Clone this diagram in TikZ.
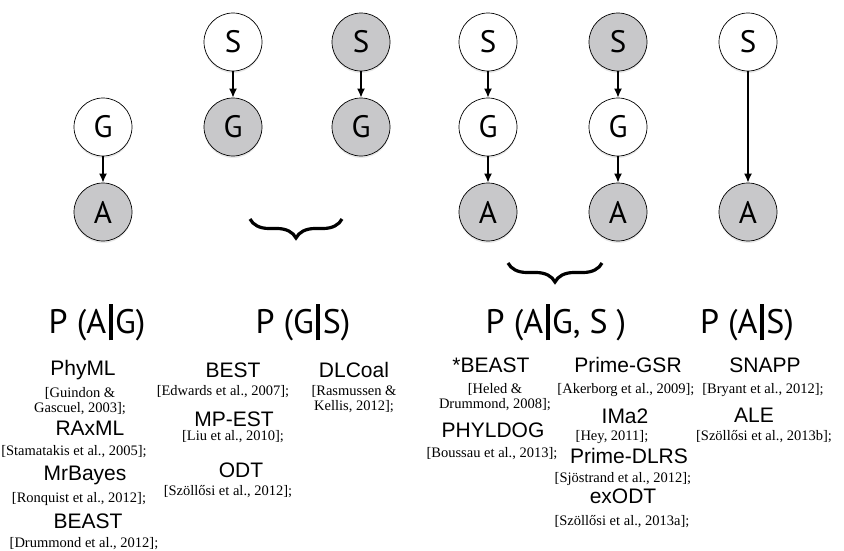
\documentclass[tikz,border=0pt]{standalone}
\usepackage{fontspec}
\setmainfont{Liberation Serif}
\newfontfamily\letterfont{PT Sans}
\newfontfamily\toolfont{Liberation Sans}
\usetikzlibrary{positioning,arrows.meta,shadows,decorations.pathreplacing}
\definecolor{obsgray}{RGB}{200,200,202}
\newcommand{\cbar}{\hspace{0.07em}\rule[-0.22em]{0.12em}{1.08em}\hspace{0.07em}}

\begin{document}
\begin{tikzpicture}[x=1pt, y=-1pt, node distance = {85pt},
    main/.style = {draw, circle, minimum size=58pt, inner sep=0pt, line width=0.7pt, fill=white,
                   font={\letterfont\fontsize{31}{36}\selectfont},
                   drop shadow={opacity=0.18, shadow xshift=0pt, shadow yshift=-2pt}},
    obs/.style = {main, fill=obsgray},
    link/.style = {-{Latex[length=9pt, width=8pt]}, line width=1.5pt},
    bracket/.style = {decorate, decoration={brace, mirror, amplitude=19pt}, line width=3.2pt},
    prob/.style = {anchor=base, font={\letterfont\fontsize{34}{40}\selectfont}},
    tool/.style = {anchor=base, font={\toolfont\fontsize{21}{24}\selectfont}},
    ref/.style = {anchor=base, align=center, font={\fontsize{14.5}{15}\selectfont}}]
    \useasboundingbox (0,0) rectangle (844,550);

    % the six models
    \node[main](1) at (103,127) {G};
    \node[obs](2)[below of=1] {A};
    \node[main](3) at (233,42) {S};
    \node[obs](4)[below of=3] {G};
    \node[obs](5) at (361,42) {S};
    \node[obs](6)[below of=5] {G};
    \node[main](7) at (488,42) {S};
    \node[main](8)[below of=7] {G};
    \node[obs](9)[below of=8] {A};
    \node[obs](10) at (618,42) {S};
    \node[main](11)[below of=10] {G};
    \node[obs](12)[below of=11] {A};
    \node[main](13) at (748,42) {S};
    \node[obs](14)[below of=13, node distance=170pt] {A};

    \draw[link] (1) -- (2);
    \draw[link] (3) -- (4);
    \draw[link] (5) -- (6);
    \draw[link] (7) -- (8);
    \draw[link] (8) -- (9);
    \draw[link] (10) -- (11);
    \draw[link] (11) -- (12);
    \draw[link] (13) -- (14);

    \coordinate (b1l) at (250,219);
    \coordinate (b1r) at (342,219);
    \coordinate (b2l) at (508,263);
    \coordinate (b2r) at (602,263);
    \draw[bracket] (b1l) -- (b1r);
    \draw[bracket] (b2l) -- (b2r);

    % probabilities
    \node[prob](p1) at (97,333) {P (A\cbar G)};
    \node[prob](p2) at (303,333) {P (G\cbar S)};
    \node[prob](p3) at (556,333) {P (A\cbar G, S )};
    \node[prob](p4) at (747,333) {P (A\cbar S)};

    % methods (base of a two-line reference is its last line)
    \node[tool](t1) at (83,375) {PhyML};
    \node[ref](r1) at (80,412) {[Guindon \&\\Gascuel, 2003];};
    \node[tool](t2) at (90,435) {RAxML};
    \node[ref](r2) at (74,455) {[Stamatakis et al., 2005];};
    \node[tool](t3) at (85,480) {MrBayes};
    \node[ref](r3) at (79,502) {[Ronquist et al., 2012];};
    \node[tool](t4) at (88,528) {BEAST};
    \node[ref](r4) at (84,547) {[Drummond et al., 2012];};

    \node[tool](t5) at (233,377) {BEST};
    \node[ref](r5) at (223,395) {[Edwards et al., 2007];};
    \node[tool](t6) at (234,426) {MP-EST};
    \node[ref](r6) at (233,440) {[Liu et al., 2010];};
    \node[tool](t7) at (241,477) {ODT};
    \node[ref](r7) at (228,495) {[Szöllősi et al., 2012];};
    \node[tool](t8) at (354,377) {DLCoal};
    \node[ref](r8) at (354,410) {[Rasmussen \&\\Kellis, 2012];};

    \node[tool](t9) at (491,372) {*BEAST};
    \node[ref](r9) at (495,408) {[Heled \&\\Drummond, 2008];};
    \node[tool](t10) at (493,437) {PHYLDOG};
    \node[ref](r10) at (492,457) {[Boussau et al., 2013];};

    \node[tool](t11) at (628,372) {Prime-GSR};
    \node[ref](r11) at (626,393) {[Akerborg et al., 2009];};
    \node[tool](t12) at (625,423) {IMa2};
    \node[ref](r12) at (612,440) {[Hey, 2011];};
    \node[tool](t13) at (629,463) {Prime-DLRS};
    \node[ref](r13) at (623,482) {[Sjöstrand et al., 2012];};
    \node[tool](t14) at (623,503) {exODT};
    \node[ref](r14) at (622,525) {[Szöllősi et al., 2013a];};

    \node[tool](t15) at (765,372) {SNAPP};
    \node[ref](r15) at (763,393) {[Bryant et al., 2012];};
    \node[tool](t16) at (754,422) {ALE};
    \node[ref](r16) at (764,440) {[Szöllősi et al., 2013b];};
\end{tikzpicture}
\end{document}
